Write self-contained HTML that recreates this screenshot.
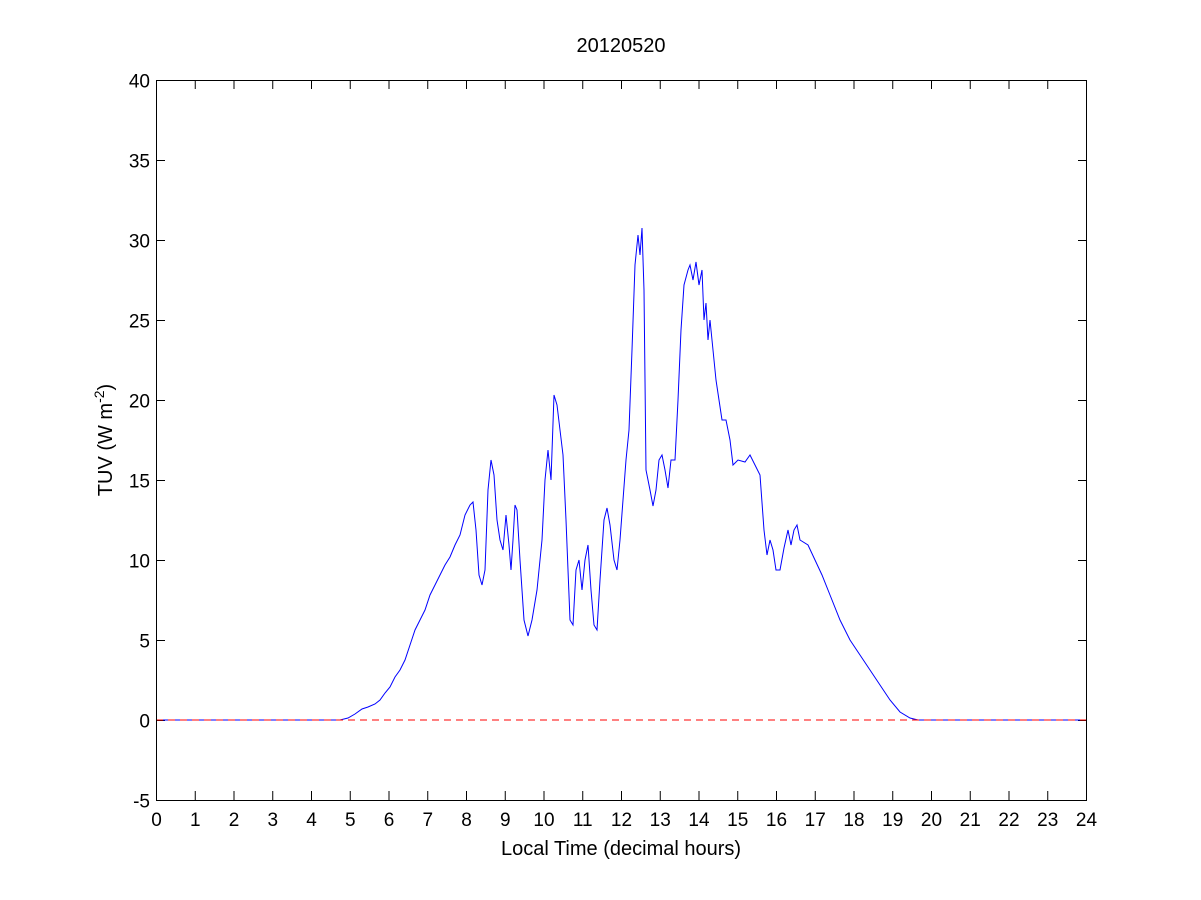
<!DOCTYPE html>
<html><head><meta charset="utf-8"><style>body{margin:0;background:#fff}svg{display:block}text{font-family:"Liberation Sans",Arial,sans-serif;font-size:19px;fill:#000}.b{font-size:20px}</style></head><body>
<svg width="1201" height="900" viewBox="0 0 1201 900">
<rect x="0" y="0" width="1201" height="900" fill="#fff"/>
<g id="ticks" stroke="#000" stroke-width="1"></g>
<polyline fill="none" stroke="#0000ff" stroke-width="1" points="156,720 340,720 348,718 355,714 362,709 368,707 375,704 380,700 385,693 390,687 395,677 400,670 405,660 410,645 415,630 420,620 425,610 430,595 435,585 440,575 445,565 450,557 455,545 460,535 465,515 470,505 473,502 476,530 479,575 482,585 485,570 488,490 491,460 494,475 497,520 500,540 503,550 506,515 509,545 511,570 513,540 515,505 517,510 520,560 524,620 528,636 532,620 537,590 542,540 545,480 548,450 551,480 554,395 557,405 560,430 563,455 566,520 570,620 573,625 576,570 579,560 582,590 585,560 588,545 591,590 594,625 597,630 600,580 604,520 607,508 610,525 614,560 617,570 620,540 623,500 626,460 629,430 632,350 635,265 638,235 640,255 642,228 644,290 646,470 650,490 653,506 656,490 659,460 662,455 665,470 668,488 671,460 675,460 678,400 681,330 684,285 688,270 690,265 693,280 696,262 699,285 702,270 704,320 706,303 708,340 710,320 713,350 716,380 719,400 722,420 726,420 730,440 733,465 738,460 745,462 750,455 755,465 760,475 764,530 767,555 770,540 773,550 776,570 780,570 784,548 788,530 791,545 794,530 797,525 800,540 808,545 815,560 822,575 830,595 840,620 850,640 860,655 870,670 880,685 890,700 900,712 910,718 918,720 1087,720"/>
<line x1="156" y1="720" x2="1087" y2="720" stroke="#ff0000" stroke-width="1" stroke-dasharray="7,5"/>
<rect x="156.5" y="80.5" width="930" height="720" fill="none" stroke="#000" stroke-width="1"/>
<g id="lbl"></g>
<text class="b" x="621" y="52" text-anchor="middle">20120520</text>
<text class="b" x="621" y="855" text-anchor="middle">Local Time (decimal hours)</text>
<text class="b" transform="translate(112,440) rotate(-90)" text-anchor="middle">TUV (W m<tspan dy="-8" font-size="14">-2</tspan><tspan dy="8">)</tspan></text>
<script>
var t=document.getElementById('ticks'),l=document.getElementById('lbl'),ns='http://www.w3.org/2000/svg';
function ln(a,b,c,d){var e=document.createElementNS(ns,'line');e.setAttribute('x1',a);e.setAttribute('y1',b);e.setAttribute('x2',c);e.setAttribute('y2',d);t.appendChild(e);}
function tx(x,y,s,an){var e=document.createElementNS(ns,'text');e.setAttribute('x',x);e.setAttribute('y',y);e.setAttribute('text-anchor',an);e.textContent=s;l.appendChild(e);}
for(var h=0;h<=24;h++){var x=156.5+h*930/24;ln(x,800,x,791);ln(x,80,x,89);tx(x,826,h,'middle');}
for(var v=-5;v<=40;v+=5){var y=720.5-v*16;ln(156,y,165,y);ln(1087,y,1078,y);tx(150,y+7,v,'end');}
</script>
</svg></body></html>
